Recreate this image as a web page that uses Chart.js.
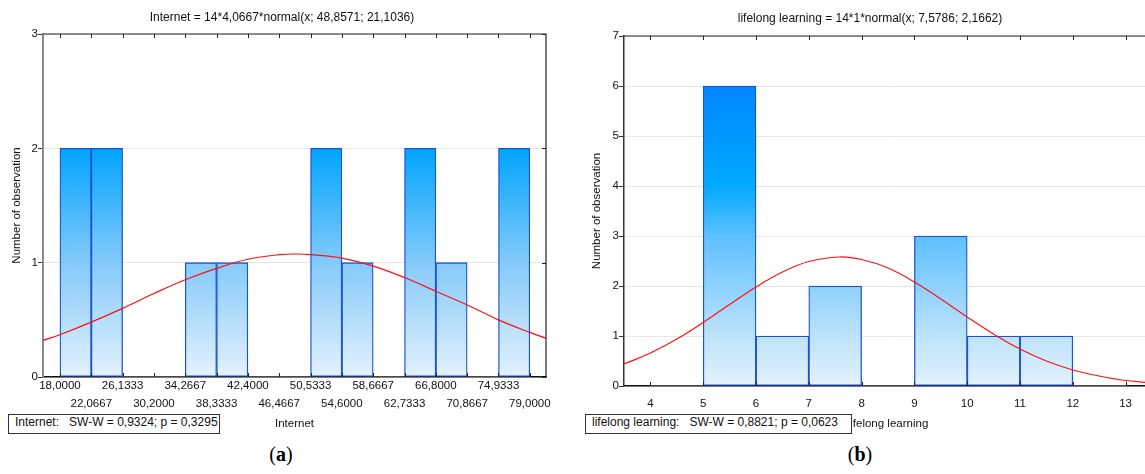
<!DOCTYPE html>
<html>
<head>
<meta charset="utf-8">
<script src="https://cdn.jsdelivr.net/npm/chart.js@4.4.1/dist/chart.umd.min.js"></script>
<style>
  html, body { margin: 0; padding: 0; background: #fff; overflow: hidden; width: 1145px; height: 474px; }
  #wrap { position: relative; width: 1145px; height: 474px; }
  canvas { position: absolute; top: 0; }
  .sw { position: absolute; height: 20px; line-height: 18px; border: 1px solid #333; background: #fff;
        font: 12px "Liberation Sans", Arial, sans-serif; color: #111; white-space: pre; padding-left: 6px; box-sizing: border-box; }
  .panel { position: absolute; top: 443px; width: 40px; text-align: center; font: 20px "Liberation Serif", serif; color: #000; }
</style>
</head>
<body>
<div id="wrap">
  <canvas id="internetChart" width="564" height="440" style="left:0"></canvas>
  <canvas id="lifelongChart" width="600" height="440" style="left:570px"></canvas>
  <div class="sw" style="left:8px; top:414px; width:212px;">Internet:   SW-W = 0,9324; p = 0,3295</div>
  <div class="sw" style="left:585px; top:414px; width:267px;">lifelong learning:   SW-W = 0,8821; p = 0,0623</div>
  <div class="panel" style="left:261px;">(<b>a</b>)</div>
  <div class="panel" style="left:840px;">(<b>b</b>)</div>
</div>
<script>
// Internet histogram
const internetTickLabels = ['18,0000', '22,0667', '26,1333', '30,2000', '34,2667', '38,3333', '42,4000', '46,4667',
    '50,5333', '54,6000', '58,6667', '62,7333', '66,8000', '70,8667', '74,9333', '79,0000'];
const internetCounts = [2, 2, 0, 0, 1, 1, 0, 0, 2, 1, 0, 2, 1, 0, 2];
const internetCurveX = [15.8, 18, 22.07, 26.13, 30.2, 34.27, 38.33, 42.4, 46.47, 48.86, 50.53, 54.6, 58.67, 62.73, 66.8, 70.87, 74.93, 79, 81.1];
const internetCurveY = [0.32, 0.37, 0.48, 0.60, 0.73, 0.85, 0.95, 1.03, 1.07, 1.076, 1.07, 1.04, 0.97, 0.87, 0.75, 0.63, 0.50, 0.39, 0.34];

// lifelong learning histogram
const lifelongTicks = [4, 5, 6, 7, 8, 9, 10, 11, 12, 13];
const lifelongCounts = [0, 6, 1, 2, 0, 3, 1, 1, 0];   // bins starting at 4, 5, ... 12
const lifelongCurveX = [3.5, 4, 4.5, 5, 5.5, 6, 6.5, 7, 7.58, 8, 8.5, 9, 9.5, 10, 10.5, 11, 11.5, 12, 12.5, 13, 13.5];
const lifelongCurveY = [0.44, 0.66, 0.94, 1.27, 1.63, 1.98, 2.28, 2.49, 2.58, 2.53, 2.36, 2.08, 1.74, 1.38, 1.04, 0.74, 0.50, 0.32, 0.20, 0.11, 0.06];

Chart.defaults.font.family = '"Liberation Sans", Arial, sans-serif';
Chart.defaults.font.size = 11.5;
Chart.defaults.color = '#111';

const parseNum = s => parseFloat(s.replace(',', '.'));

// inward ticks on the plot frame + top/right border
const frameTicks = {
    id: 'frameTicks',
    afterDatasetsDraw(chart) {
        const {ctx, chartArea: a, scales: {x, y}} = chart;
        ctx.save();
        ctx.strokeStyle = '#222';
        ctx.lineWidth = 1.2;
        ctx.beginPath();
        ctx.moveTo(a.left, a.top);
        ctx.lineTo(a.right, a.top);
        ctx.lineTo(a.right, a.bottom);
        ctx.stroke();
        ctx.lineWidth = 1;
        ctx.beginPath();
        x.ticks.forEach(t => {
            const px = Math.round(x.getPixelForValue(t.value)) + 0.5;
            ctx.moveTo(px, a.bottom); ctx.lineTo(px, a.bottom - 4);
            ctx.moveTo(px, a.top); ctx.lineTo(px, a.top + 4);
        });
        y.ticks.forEach(t => {
            const py = Math.round(y.getPixelForValue(t.value)) + 0.5;
            ctx.moveTo(a.right, py); ctx.lineTo(a.right - 4, py);
        });
        ctx.stroke();
        ctx.restore();
    }
};

function barGradient(stops) {
    return function(context) {
        const chart = context.chart;
        const {ctx, chartArea, scales} = chart;
        if (!chartArea) return '#8cf';
        const top = stops[0][0];
        const y0 = scales.y.getPixelForValue(top);
        const y1 = scales.y.getPixelForValue(0);
        const g = ctx.createLinearGradient(0, y0, 0, y1);
        stops.forEach(s => g.addColorStop((top - s[0]) / top, s[1]));
        return g;
    };
}

function histogram(canvasId, o) {
    const ctx = document.getElementById(canvasId).getContext('2d');
    return new Chart(ctx, {
        type: 'bar',
        data: {
            datasets: [{
                type: 'line',
                data: o.curveX.map((v, i) => ({x: v, y: o.curveY[i]})),
                borderColor: '#ff1010',
                borderWidth: 1.2,
                pointRadius: 0,
                tension: 0.4,
                order: 0
            }, {
                type: 'bar',
                data: o.centers.map((v, i) => ({x: v, y: o.counts[i]})),
                backgroundColor: barGradient(o.gradient),
                borderColor: '#1a52d4',
                borderWidth: c => (c.raw && c.raw.y ? 1.3 : 0),
                borderSkipped: false,
                barPercentage: 1,
                categoryPercentage: 1,
                order: 1
            }]
        },
        plugins: [frameTicks],
        options: {
            responsive: false,
            animation: false,
            events: [],
            layout: {padding: {left: 18, right: 18}},
            plugins: {
                legend: {display: false},
                tooltip: {enabled: false},
                title: {
                    display: true,
                    text: o.title,
                    color: '#111',
                    font: {size: 12, weight: 'normal'},
                    padding: o.titlePad
                }
            },
            scales: {
                x: {
                    type: 'linear',
                    min: o.xMin,
                    max: o.xMax,
                    offset: false,
                    grid: {display: false, offset: false},
                    border: {display: true, color: '#111', width: 1.5},
                    afterBuildTicks: s => { s.ticks = o.ticks.map(v => ({value: v})); },
                    afterFit: s => { s.height = o.xHeight; },
                    ticks: {
                        autoSkip: false,
                        maxRotation: 0,
                        minRotation: 0,
                        padding: o.xTickPad,
                        font: {size: 11.5, lineHeight: o.xLineHeight},
                        callback: (v, i) => o.tickText(v, i)
                    },
                    title: {
                        display: true,
                        text: o.xTitle,
                        font: {size: 11.5},
                        padding: {top: 0, bottom: 9.1}
                    }
                },
                y: {
                    min: 0,
                    max: o.yMax,
                    ticks: {stepSize: 1, padding: 0, font: {size: 11.5}},
                    grid: {color: '#e6e6e6', tickColor: '#333', tickLength: 5},
                    border: {display: true, color: o.yBorder, width: o.yBorderWidth},
                    afterFit: s => { s.width = o.yWidth; },
                    title: {
                        display: true,
                        text: 'Number of observation',
                        font: {size: 11.5},
                        padding: {top: o.yTitlePad, bottom: 0}
                    }
                }
            }
        }
    });
}

const internetEdges = internetTickLabels.map(parseNum);
histogram('internetChart', {
    title: 'Internet = 14*4,0667*normal(x; 48,8571; 21,1036)',
    titlePad: {top: 10, bottom: 9.6},
    xTitle: 'Internet',
    xMin: 15.8, xMax: 81.1,
    ticks: internetEdges,
    tickText: (v, i) => {
        const k = internetEdges.indexOf(v);
        const lbl = internetTickLabels[k];
        return k % 2 === 0 ? [lbl, ''] : ['', lbl];
    },
    xHeight: 63, xTickPad: -8, xLineHeight: 1.55,
    centers: internetEdges.slice(0, -1).map((e, i) => (e + internetEdges[i + 1]) / 2),
    counts: internetCounts,
    curveX: internetCurveX, curveY: internetCurveY,
    yMax: 3, yWidth: 25, yTitlePad: -7.9,
    yBorder: '#8a8a8a', yBorderWidth: 2,
    gradient: [[2, '#00a4ff'], [1, '#84cafa'], [0, '#e4f2fe']]
});

histogram('lifelongChart', {
    title: 'lifelong learning = 14*1*normal(x; 7,5786; 2,1662)',
    titlePad: {top: 11, bottom: 10.6},
    xTitle: 'lifelong learning',
    xMin: 3.5, xMax: 13.5,
    ticks: lifelongTicks,
    tickText: v => String(v),
    xHeight: 54, xTickPad: 3.4, xLineHeight: 1.2,
    centers: lifelongTicks.slice(0, -1).map(v => v + 0.5),
    counts: lifelongCounts,
    curveX: lifelongCurveX, curveY: lifelongCurveY,
    yMax: 7, yWidth: 36, yTitlePad: 2.1,
    yBorder: '#333', yBorderWidth: 1.5,
    gradient: [[6, '#0086ff'], [4, '#00aaff'], [3, '#5ec0ff'], [1, '#bde2fb'], [0, '#e4f2fe']]
});
</script>
</body>
</html>
